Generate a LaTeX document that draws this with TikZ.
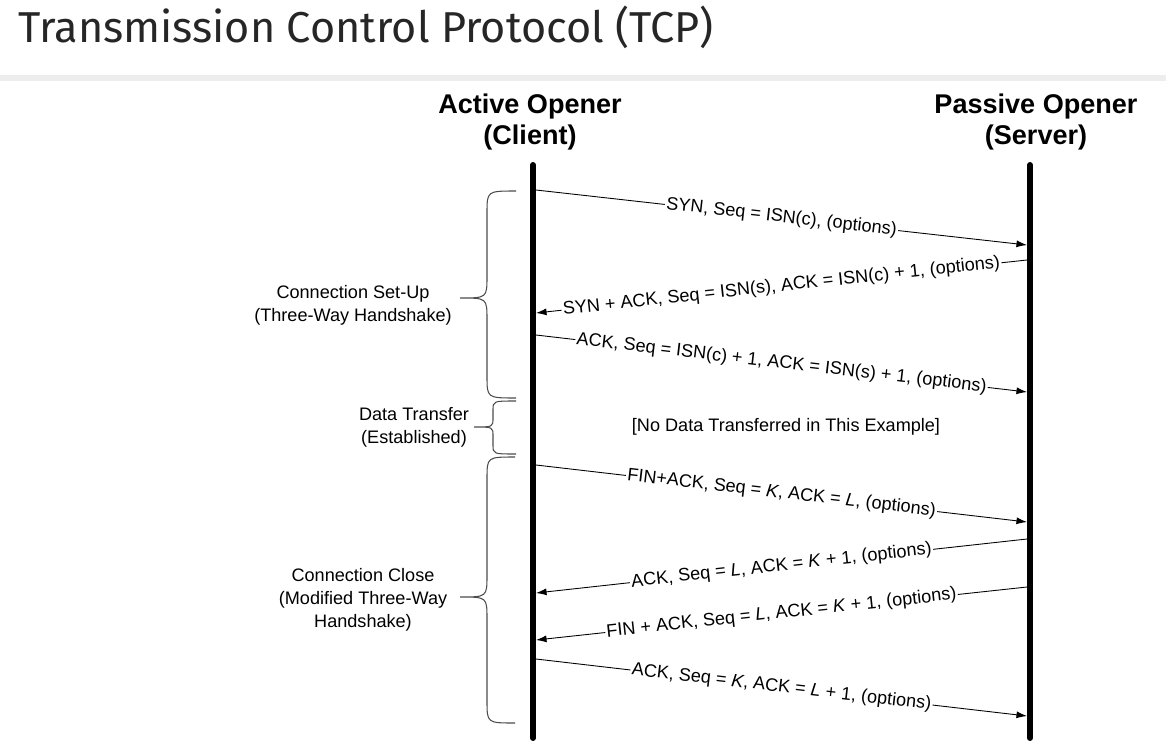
\documentclass[tikz,border=0pt]{standalone}
\usepackage{fontspec}
\setmainfont{Liberation Sans}
\newfontfamily\titlefont{Fira Sans}
\usetikzlibrary{arrows.meta}

\tikzset{
  lifeline/.style={line width=3.4pt,line cap=round},
  msg/.style={line width=0.5pt,-{Latex[length=6pt,width=4pt]}},
  msglabel/.style={midway,sloped,fill=white,inner sep=0.8pt,font=\fontsize{10.3}{12}\selectfont},
  bracelabel/.style={align=center,font=\fontsize{10.3}{13}\selectfont},
  head/.style={align=center,font=\fontsize{15.4}{18.2}\selectfont\bfseries},
  bracepath/.style={line width=0.6pt,black!70}
}

\begin{document}
\begin{tikzpicture}[x=0.02cm,y=-0.02cm]
\useasboundingbox (0,0) rectangle (1166,747);

\node[anchor=base west,inner sep=0pt,black!85,font=\titlefont\fontsize{24.6}{30}\selectfont] (title) at (18,42) {Transmission Control Protocol (TCP)};
\draw[black!7,line width=3pt] (0,78) -- (1166,78);

\node[head] (client) at (530,122) {Active Opener\\(Client)};
\node[head] (server) at (1036,122) {Passive Opener\\(Server)};

\coordinate (ctop) at (533,165);
\coordinate (cbot) at (533,738);
\coordinate (stop) at (1030,165);
\coordinate (sbot) at (1030,738);
\draw[lifeline] (ctop) -- (cbot);
\draw[lifeline] (stop) -- (sbot);

\foreach \i/\xa/\ya/\xb/\yb/\txt in {
  1/536/190/1027/245/{SYN, Seq = ISN(c), (options)},
  2/1027/260/536/313/{SYN + ACK, Seq = ISN(s), ACK = ISN(c) + 1, (options)},
  3/536/335/1027/392/{ACK, Seq = ISN(c) + 1, ACK = ISN(s) + 1, (options)},
  4/536/465/1027/522/{FIN+ACK, Seq = \textit{K}, ACK = \textit{L}, (options)},
  5/1027/539/536/593/{ACK, Seq = \textit{L}, ACK = \textit{K} + 1, (options)},
  6/1027/587/536/640/{FIN + ACK, Seq = \textit{L}, ACK = \textit{K} + 1, (options)},
  7/536/659/1027/716/{ACK, Seq = \textit{K}, ACK = \textit{L} + 1, (options)}}
{
\coordinate (m\i a) at (\xa,\ya);
\coordinate (m\i b) at (\xb,\yb);
\draw[msg] (m\i a) -- node[msglabel] (l\i) {\txt} (m\i b);
}

\foreach \e/\s/\t/\ya/\ym/\yb/\h in {516/487/460/191/298/398/22, 516/493/474/401/427/454/9, 515/487/460/457/597/723/22}
{
\draw[bracepath] (\e,\ya) .. controls (\s,\ya) .. (\s,\ya+\h) -- (\s,\ym-\h)
  .. controls (\s,\ym) .. (\t,\ym) .. controls (\s,\ym) .. (\s,\ym+\h)
  -- (\s,\yb-\h) .. controls (\s,\yb) .. (\e,\yb);
}

\node[bracelabel] (setup) at (353,305) {Connection Set-Up\\(Three-Way Handshake)};
\node[bracelabel] (data) at (414,427) {Data Transfer\\(Established)};
\node[bracelabel] (close) at (363,600) {Connection Close\\(Modified Three-Way\\Handshake)};
\node[font=\fontsize{10.3}{12}\selectfont] (nodata) at (786,427) {[No Data Transferred in This Example]};

\end{tikzpicture}
\end{document}
